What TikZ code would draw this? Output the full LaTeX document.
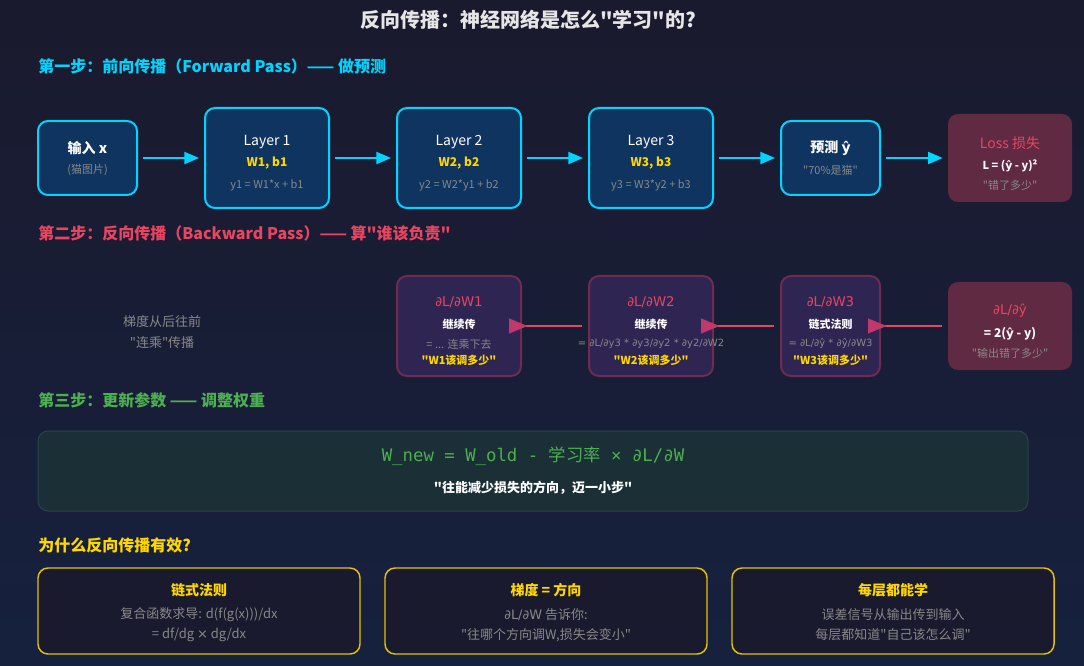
\documentclass[tikz,border=0pt]{standalone}
\usepackage{fontspec}
\setmainfont{Noto Sans CJK SC}[Ligatures=TeXOff]
\newfontfamily\monofont{DejaVu Sans Mono}
\newfontfamily\dvfont{DejaVu Sans}
\usetikzlibrary{arrows.meta}
\definecolor{bgtop}{HTML}{1A1A2E}
\definecolor{bgbot}{HTML}{16213E}
\definecolor{cyanc}{HTML}{00D4FF}
\definecolor{boxblue}{HTML}{0F3460}
\definecolor{pinkc}{HTML}{E94560}
\definecolor{lossfill}{HTML}{602A42}
\definecolor{bkfill}{HTML}{2E2552}
\definecolor{bkborder}{HTML}{6E2C50}
\definecolor{bktip}{HTML}{C0386C}
\definecolor{goldc}{HTML}{FFD700}
\definecolor{goldline}{HTML}{E6C200}
\definecolor{grayc}{HTML}{888888}
\definecolor{greenc}{HTML}{4CAF50}
\definecolor{updfill}{HTML}{1B2F36}
\definecolor{updline}{HTML}{28444A}
\definecolor{titlec}{HTML}{E6E6E6}
\newcommand\yh{{\dvfont ŷ}}
\tikzset{>=Stealth,
  fwdbox/.style={draw=cyanc, line width=1.5pt, fill=boxblue, rounded corners=7.5pt, minimum width=93pt, minimum height=75pt},
  fwdsmall/.style={fwdbox, minimum width=74.25pt, minimum height=55.5pt},
  lossbox/.style={fill=lossfill, rounded corners=7.5pt, minimum width=93pt, minimum height=66pt},
  bkbox/.style={draw=bkborder, line width=1.5pt, fill=bkfill, rounded corners=7.5pt, minimum width=93pt, minimum height=75pt},
  tipbox/.style={draw=goldline, line width=1.1pt, fill=bgtop, rounded corners=7.5pt, minimum width=241.5pt, minimum height=64.5pt},
  fwdarrow/.style={draw=cyanc, line width=1.5pt, -{Triangle[length=11pt,width=9pt]}, shorten <=3.75pt, shorten >=3.75pt},
  bkarrow/.style={draw=pinkc, line width=1.5pt, {Triangle[reversed,length=14pt,width=11pt,color=bktip]}-, shorten <=-9.75pt, shorten >=4.5pt},
  hd/.style={anchor=west, inner sep=0pt, font=\fontsize{12}{14}\selectfont\bfseries},
  ttl/.style={inner sep=0pt, text=white, font=\fontsize{10.5}{12}\selectfont},
  wb/.style={inner sep=0pt, text=goldc, font=\fontsize{9}{11}\selectfont\bfseries},
  sub/.style={inner sep=0pt, text=grayc, font=\fontsize{8.25}{10}\selectfont},
  sm/.style={inner sep=0pt, text=white, font=\fontsize{8.25}{10}\selectfont\bfseries},
  txt/.style={inner sep=0pt, text=grayc, font=\fontsize{9.75}{12}\selectfont}}
\begin{document}
\begin{tikzpicture}[x=0.75pt,y=-0.75pt]
\fill[top color=bgtop, bottom color=bgbot] (0,0) rectangle (1084,666);
\node[inner sep=0pt, text=titlec, font=\fontsize{15}{18}\selectfont\bfseries] (title) at (528,20) {反向传播：神经网络是怎么"学习"的?};
\node[hd, text=cyanc] (step1) at (38,66) {第一步：前向传播（Forward Pass）—— 做预测};
\node[fwdsmall] (in) at (87.5,158) {};
\node[fwdbox] (L1) at (267,158) {};
\node[fwdbox] (L2) at (459,158) {};
\node[fwdbox] (L3) at (651,158) {};
\node[fwdsmall] (pred) at (830.5,158) {};
\node[lossbox] (loss) at (1010,158) {};
\node[ttl, font=\fontsize{10.5}{12}\selectfont\bfseries] (in-a) at (87.5,148) {输入 x};
\node[sub] (in-b) at (87.5,170) {(猫图片)};
\node[ttl] (L1-a) at (267,142) {Layer 1};
\node[wb] (L1-b) at (267,163) {W1, b1};
\node[sub] (L1-c) at (267,185) {y1 = W1*x + b1};
\node[ttl] (L2-a) at (459,142) {Layer 2};
\node[wb] (L2-b) at (459,163) {W2, b2};
\node[sub] (L2-c) at (459,185) {y2 = W2*y1 + b2};
\node[ttl] (L3-a) at (651,142) {Layer 3};
\node[wb] (L3-b) at (651,163) {W3, b3};
\node[sub] (L3-c) at (651,185) {y3 = W3*y2 + b3};
\node[ttl, font=\fontsize{10.5}{12}\selectfont\bfseries] (pred-a) at (830.5,148) {预测 \yh};
\node[sub] (pred-b) at (830.5,170) {"70\%是猫"};
\node[ttl, text=pinkc] (loss-a) at (1010,143) {Loss 损失};
\node[sm] (loss-b) at (1010,166) {L = (\yh{} - y)²};
\node[sub] (loss-c) at (1010,185) {"错了多少"};
\draw[fwdarrow] (in) -- (L1);
\draw[fwdarrow] (L1) -- (L2);
\draw[fwdarrow] (L2) -- (L3);
\draw[fwdarrow] (L3) -- (pred);
\draw[fwdarrow] (pred) -- (loss);
\node[hd, text=pinkc] (step2) at (38,233) {第二步：反向传播（Backward Pass）—— 算"谁该负责"};
\node[txt] (flow-a) at (162,322) {梯度从后往前};
\node[txt] (flow-b) at (162,343) {"连乘"传播};
\node[bkbox] (gW1) at (459,326) {};
\node[bkbox] (gW2) at (651,326) {};
\node[bkbox, minimum width=74.25pt] (gW3) at (830.5,326) {};
\node[lossbox] (gy) at (1010,326) {};
\node[ttl, text=pinkc, font=\fontsize{10}{12}\dvfont] (gW1-a) at (459,302) {∂L/∂W1};
\node[sm] (gW1-b) at (459,324) {继续传};
\node[sub] (gW1-c) at (459,344) {= ... 连乘下去};
\node[wb, font=\fontsize{8.25}{10}\selectfont\bfseries] (gW1-d) at (459,360) {"W1该调多少"};
\node[ttl, text=pinkc, font=\fontsize{10}{12}\dvfont] (gW2-a) at (651,302) {∂L/∂W2};
\node[sm] (gW2-b) at (651,324) {继续传};
\node[sub, font=\fontsize{7.5}{9}\dvfont] (gW2-c) at (651,344) {= ∂L/∂y3 * ∂y3/∂y2 * ∂y2/∂W2};
\node[wb, font=\fontsize{8.25}{10}\selectfont\bfseries] (gW2-d) at (651,360) {"W2该调多少"};
\node[ttl, text=pinkc, font=\fontsize{10}{12}\dvfont] (gW3-a) at (830.5,302) {∂L/∂W3};
\node[sm] (gW3-b) at (830.5,324) {链式法则};
\node[sub, font=\fontsize{7.5}{9}\dvfont] (gW3-c) at (830.5,344) {= ∂L/∂ŷ * ∂ŷ/∂W3};
\node[wb, font=\fontsize{8.25}{10}\selectfont\bfseries] (gW3-d) at (830.5,360) {"W3该调多少"};
\node[ttl, text=pinkc, font=\fontsize{10}{12}\dvfont] (gy-a) at (1010,311) {∂L/∂ŷ};
\node[sm, font=\fontsize{9}{11}\selectfont\bfseries] (gy-b) at (1010,334) {= 2(\yh{} - y)};
\node[sub] (gy-c) at (1010,353) {"输出错了多少"};
\draw[bkarrow] (gW1) -- (gW2);
\draw[bkarrow] (gW2) -- (gW3);
\draw[bkarrow] (gW3) -- (gy);
\node[hd, text=greenc] (step3) at (38,400) {第三步：更新参数 —— 调整权重};
\node[draw=updline, line width=0.75pt, fill=updfill, rounded corners=7.5pt, minimum width=742.5pt, minimum height=60pt] (upd) at (533,471) {};
\node[inner sep=0pt, text=greenc, font=\fontsize{13}{15}\selectfont] (upd-a) at (533,456) {{\monofont W\_new = W\_old - }学习率{\monofont{} × ∂L/∂W}};
\node[sm, font=\fontsize{9.75}{12}\selectfont\bfseries] (upd-b) at (533,488) {"往能减少损失的方向，迈一小步"};
\node[hd, text=goldc] (step4) at (38,545) {为什么反向传播有效?};
\node[tipbox] (why1) at (199,611) {};
\node[tipbox] (why2) at (546,611) {};
\node[tipbox] (why3) at (893,611) {};
\node[wb, font=\fontsize{10.5}{12}\selectfont\bfseries] (why1-a) at (199,590) {链式法则};
\node[txt] (why1-b) at (199,615) {复合函数求导: d(f(g(x)))/dx};
\node[txt] (why1-c) at (199,635) {= df/dg {\dvfont ×} dg/dx};
\node[wb, font=\fontsize{10.5}{12}\selectfont\bfseries] (why2-a) at (546,590) {梯度 = 方向};
\node[txt] (why2-b) at (546,615) {{\dvfont ∂L/∂W} 告诉你:};
\node[txt] (why2-c) at (546,635) {"往哪个方向调W,损失会变小"};
\node[wb, font=\fontsize{10.5}{12}\selectfont\bfseries] (why3-a) at (893,590) {每层都能学};
\node[txt] (why3-b) at (893,615) {误差信号从输出传到输入};
\node[txt] (why3-c) at (893,635) {每层都知道"自己该怎么调"};
\end{tikzpicture}
\end{document}
